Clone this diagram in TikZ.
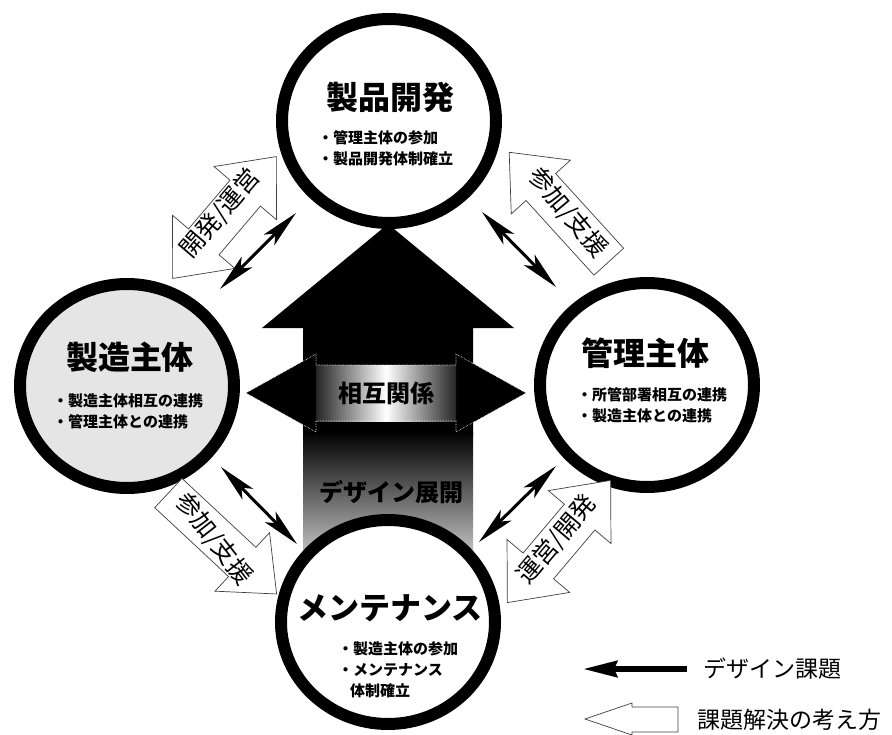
\documentclass[tikz,border=0pt]{standalone}
\usepackage{fontspec}
\setmainfont{Noto Sans CJK JP}
\usetikzlibrary{arrows.meta,shapes.geometric}
\tikzset{
  ring/.style={ellipse, draw=black, line width=12pt, fill=white, minimum width=214pt, minimum height=204pt, inner sep=0pt},
  titletext/.style={font=\bfseries\fontsize{32}{36}\selectfont, inner sep=0pt},
  bullets/.style={font=\bfseries\fontsize{15}{21}\selectfont, align=left, anchor=west, inner sep=0pt},
  hollow/.style={draw=black!75, line width=0.7pt, fill=white},
  arrowlabel/.style={font=\fontsize{24.5}{27}\selectfont, inner sep=0pt},
  centrallabel/.style={font=\bfseries\fontsize{24}{26}\selectfont, inner sep=0pt},
  linkarrow/.style={line width=3pt, {Stealth[length=38pt,width=15pt,inset=9pt]}-{Stealth[length=38pt,width=15pt,inset=9pt]}},
  legendtext/.style={font=\fontsize{23}{26}\selectfont, anchor=west, inner sep=0pt},
}
\newcommand{\dblhollowpath}{(80pt,0pt) -- (32pt,41pt) -- (32pt,20pt) -- (-32pt,20pt) -- (-32pt,41pt) -- (-80pt,0pt) -- (-32pt,-41pt) -- (-32pt,-20pt) -- (32pt,-20pt) -- (32pt,-41pt) -- cycle}
\newcommand{\sglhollowpath}{(74pt,0pt) -- (27pt,40pt) -- (27pt,20pt) -- (-74pt,20pt) -- (-74pt,-20pt) -- (27pt,-20pt) -- (27pt,-40pt) -- cycle}
\begin{document}
\begin{tikzpicture}[x=1pt,y=-1pt]
\useasboundingbox (0,0) rectangle (892,734);
\clip (0,0) rectangle (892,734);

% central upward arrow
\fill[black] (388,224) -- (514,328) -- (473,328) -- (473,436) -- (303,436) -- (303,328) -- (262,328) -- cycle;
\shade[top color=black, bottom color=black!20] (303,432) rectangle (473,560);
\fill[black!20] (303,559) rectangle (473,600);

% horizontal double arrow
\fill[black] (246,393) -- (316,354) -- (316,365) -- (456,365) -- (456,354) -- (526,393) -- (456,432) -- (456,421) -- (316,421) -- (316,432) -- cycle;
\shade[left color=black!85, right color=black!85, middle color=white] (316,365) rectangle (456,421);
\draw[white, densely dotted, line width=0.6pt] (246,393) -- (316,354) -- (316,365) -- (456,365) -- (456,354) -- (526,393) -- (456,432) -- (456,421) -- (316,421) -- (316,432) -- cycle;
\node[centrallabel] (mutual) at (386,393) {相互関係};
\node[centrallabel] (deploy) at (391,492) {デザイン展開};

% circles
\node[ring] (topc) at (389,121) {};
\node[ring, fill=black!10] (leftc) at (127,386) {};
\node[ring] (rightc) at (647,385) {};
\node[ring] (botc) at (388,622) {};

\node[titletext] (topt) at (390,97) {製品開発};
\node[bullets] (topb) at (318,148) {・管理主体の参加\\・製品開発体制確立};
\node[titletext] (leftt) at (130,357) {製造主体};
\node[bullets] (leftb) at (53,411) {・製造主体相互の連携\\・管理主体との連携};
\node[titletext] (rightt) at (645,353) {管理主体};
\node[bullets] (rightb) at (577,405) {・所管部署相互の連携\\・製造主体との連携};
\node[titletext, font=\bfseries\fontsize{31}{34}\selectfont] (bott) at (390,608) {メンテナンス};
\node[bullets] (botb) at (338,670) {・製造主体の参加\\・メンテナンス\\\hspace*{12pt}体制確立};

% hollow arrows
\begin{scope}[shift={(224.5,217.5)}, rotate=49.6]
  \draw[hollow] \dblhollowpath;
  \node[arrowlabel, transform shape] (ullab) at (0pt,6pt) {開発/運営};
\end{scope}
\begin{scope}[shift={(559,541.5)}, rotate=49.8]
  \draw[hollow] \dblhollowpath;
  \node[arrowlabel, transform shape] (lrlab) at (0pt,3pt) {運営/開発};
\end{scope}
\begin{scope}[shift={(559,207)}, rotate=132.3]
  \draw[hollow] \sglhollowpath;
\end{scope}
\node[arrowlabel, rotate=-50] (urlab) at (568,213) {参加/支援};
\begin{scope}[shift={(222.5,543.5)}, rotate=-43]
  \draw[hollow] \sglhollowpath;
\end{scope}
\node[arrowlabel, rotate=-52] (lllab) at (214,539) {参加/支援};

% black link arrows
\coordinate (ula) at (220,289); \coordinate (ulb) at (296,213);
\coordinate (ura) at (482,212); \coordinate (urb) at (556,287);
\coordinate (lla) at (221,467); \coordinate (llb) at (297,544);
\coordinate (lra) at (479,542); \coordinate (lrb) at (556,466);
\draw[linkarrow] (ula) -- (ulb);
\draw[linkarrow] (ura) -- (urb);
\draw[linkarrow] (lla) -- (llb);
\draw[linkarrow] (lra) -- (lrb);

% legend
\coordinate (lgs) at (687,669); \coordinate (lge) at (583,669);
\draw[line width=6pt, -{Stealth[length=34pt,width=16pt,inset=3pt]}] (lgs) -- (lge);
\node[legendtext] (lgt1) at (703,669) {デザイン課題};
\draw[hollow] (585,719) -- (632,703) -- (632,707) -- (678,707) -- (678,732) -- (632,732) -- (632,735) -- cycle;
\node[legendtext] (lgt2) at (697,720) {課題解決の考え方};
\end{tikzpicture}
\end{document}
